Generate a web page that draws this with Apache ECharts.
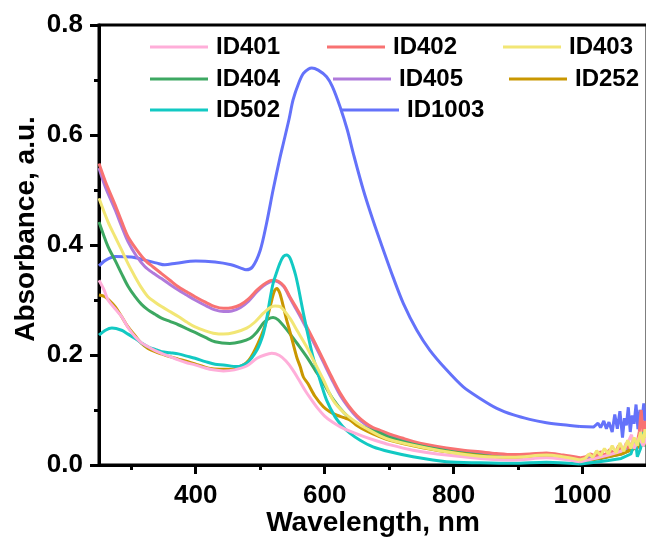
<!DOCTYPE html>
<html>
<head>
<meta charset="utf-8">
<script src="https://cdn.jsdelivr.net/npm/echarts@6/dist/echarts.min.js"></script>
<style>html,body{margin:0;padding:0;background:#fff}#c{width:646px;height:537px}</style>
</head>
<body>
<div id="c"></div>
<script>
const FONT = 'Liberation Sans, Arial, sans-serif';
const xTicks = [400, 600, 800, 1000];
const xMinorTicks = [300, 500, 700, 900];
const noiseStart = 996; // beyond this wavelength the measured spectra are noisy

const id401_nm = [250,258,264,275,285,295,306,316,326,337,347,360,373,386,399,413,427,443,460,479,495,507,518,530,540,550,560,570,580,590,600,612,625,640,660,680,700,737,789,841,892,944,996,1020,1040,1060,1070,1076,1080,1088,1094,1100];
const id401_abs = [.336,.318,.30,.284,.27,.25,.233,.222,.215,.208,.203,.197,.191,.186,.182,.177,.173,.171,.173,.18,.194,.200,.203,.199,.189,.174,.155,.135,.118,.102,.089,.078,.069,.061,.052,.044,.037,.027,.018,.012,.009,.013,.006,.012,.018,.025,.04,.055,.03,.05,.035,.05];

const id402_nm = [250,260,275,285,295,308,321,334,347,360,373,386,399,415,430,443,456,469,482,495,505,515,520,528,537,546,555,564,572,585,598,611,624,637,650,663,675,686,701,720,737,760,789,815,841,866,892,918,944,970,996,1005,1012,1020,1028,1035,1042,1050,1056,1062,1068,1073,1078,1083,1088,1091,1094,1097,1100];
const id402_abs = [.548,.515,.473,.443,.415,.392,.373,.36,.348,.336,.324,.315,.306,.296,.288,.285,.286,.291,.302,.318,.328,.335,.336,.334,.325,.306,.288,.27,.252,.222,.191,.16,.131,.108,.09,.077,.068,.063,.056,.049,.043,.037,.031,.027,.024,.021,.019,.02,.022,.018,.013,.015,.02,.016,.024,.018,.028,.02,.035,.022,.04,.025,.045,.03,.06,.1,.055,.08,.06];

const id403_nm = [250,264,275,285,295,306,316,326,337,347,360,373,386,399,415,430,443,460,479,492,505,515,523,532,546,558,572,585,598,613,630,650,670,686,701,737,789,841,892,944,996,1004,1010,1016,1022,1028,1034,1040,1046,1052,1058,1064,1070,1075,1080,1085,1090,1094,1097,1100];
const id403_abs = [.485,.442,.415,.391,.366,.342,.322,.306,.296,.288,.279,.27,.26,.251,.244,.239,.238,.241,.249,.26,.276,.286,.289,.287,.267,.243,.215,.185,.155,.118,.095,.077,.063,.053,.046,.036,.024,.016,.014,.018,.009,.012,.02,.014,.026,.017,.03,.02,.035,.022,.04,.025,.045,.03,.05,.035,.06,.04,.065,.05];

const id404_nm = [250,264,275,285,295,306,316,326,337,347,360,373,386,399,415,430,453,470,484,495,505,512,520,528,537,546,558,572,585,598,613,630,650,675,686,701,737,789,841,892,944,996,1030,1060,1080,1090,1100];
const id404_abs = [.442,.397,.372,.348,.325,.306,.292,.282,.274,.267,.261,.255,.248,.241,.232,.224,.221,.224,.23,.242,.258,.265,.268,.264,.252,.239,.22,.197,.173,.149,.12,.095,.075,.062,.058,.05,.038,.026,.018,.013,.015,.007,.012,.02,.03,.04,.035];

const id405_nm = [250,260,275,285,295,308,321,334,347,360,373,386,399,415,430,443,456,469,482,495,505,515,520,528,537,546,555,564,572,585,598,611,624,637,650,663,675,686,701,737,789,841,892,944,996,1020,1040,1060,1075,1085,1090,1095,1100];
const id405_abs = [.54,.505,.464,.434,.406,.38,.361,.349,.339,.328,.318,.309,.30,.29,.282,.279,.28,.286,.298,.315,.326,.333,.335,.333,.324,.304,.285,.266,.248,.218,.187,.156,.127,.105,.087,.074,.066,.061,.054,.041,.029,.022,.017,.02,.011,.016,.02,.025,.035,.03,.05,.035,.045];

const id252_nm = [250,259,267,275,285,295,306,316,326,337,347,357,372,388,404,420,437,455,474,482,489,497,505,512,518,522,526,530,533,537,541,546,551,557,562,567,574,585,598,608,620,630,639,650,665,686,701,737,789,841,892,944,996,1030,1060,1080,1100];
const id252_abs = [.309,.306,.298,.288,.27,.251,.235,.221,.212,.206,.202,.198,.193,.188,.182,.176,.174,.174,.182,.19,.203,.222,.245,.272,.30,.316,.321,.314,.302,.283,.264,.243,.221,.195,.179,.16,.148,.125,.106,.097,.09,.086,.082,.072,.062,.051,.045,.035,.024,.017,.013,.015,.007,.013,.02,.03,.04];

const id502_nm = [250,260,270,285,295,306,316,326,337,347,360,373,386,399,415,430,443,464,479,487,495,500,505,510,515,520,526,531,536,541,546,551,555,559,563,567,572,577,582,588,595,603,616,628,639,655,675,701,737,789,841,892,944,996,1020,1040,1060,1075,1082,1085,1090,1095,1100];
const id502_abs = [.236,.245,.249,.245,.238,.23,.222,.215,.21,.206,.204,.202,.198,.194,.188,.183,.182,.179,.185,.195,.209,.222,.239,.265,.30,.33,.352,.368,.379,.382,.377,.361,.345,.324,.30,.276,.248,.221,.196,.173,.146,.118,.088,.07,.058,.045,.033,.024,.015,.006,.004,.003,.005,.002,.005,.008,.012,.02,.045,.015,.03,.06,.04];

const id1003_nm = [250,260,275,300,320,340,352,370,400,430,455,470,478,488,500,510,520,530,536,545,551,560,567,575,580,590,603,612,624,635,645,660,675,691,706,722,743,763,789,815,841,867,893,918,944,970,996,1017,1024,1028,1033,1037,1041,1046,1050,1054,1058,1062,1065,1068,1071,1074,1077,1080,1083,1086,1089,1092,1095,1098,1100];
const id1003_abs = [.362,.372,.379,.378,.373,.367,.364,.367,.371,.369,.364,.358,.355,.360,.39,.44,.50,.555,.585,.63,.664,.695,.712,.72,.722,.718,.706,.688,.651,.61,.564,.50,.445,.391,.342,.294,.245,.209,.173,.142,.121,.103,.091,.083,.077,.073,.070,.069,.076,.068,.080,.066,.078,.060,.092,.066,.098,.05,.085,.072,.105,.06,.09,.075,.11,.065,.1,.08,.112,.07,.095];

const seriesDefs = [
  {name:'ID1003', nm:id1003_nm, abs:id1003_abs, color:'#6472FA'},
  {name:'ID405', nm:id405_nm, abs:id405_abs, color:'#B07ADB'},
  {name:'ID402', nm:id402_nm, abs:id402_abs, color:'#F87272'},
  {name:'ID404', nm:id404_nm, abs:id404_abs, color:'#3DA862'},
  {name:'ID252', nm:id252_nm, abs:id252_abs, color:'#C99700'},
  {name:'ID502', nm:id502_nm, abs:id502_abs, color:'#12C9C3'},
  {name:'ID401', nm:id401_nm, abs:id401_abs, color:'#FFAED9'},
  {name:'ID403', nm:id403_nm, abs:id403_abs, color:'#F2E675'}
];

const legendPos = [
  {name:'ID401', left:150, top:35},
  {name:'ID402', left:327, top:35},
  {name:'ID403', left:503, top:35},
  {name:'ID404', left:150, top:67},
  {name:'ID405', left:333, top:67},
  {name:'ID252', left:509, top:67},
  {name:'ID502', left:150, top:98},
  {name:'ID1003', left:341, top:98}
];

const chart = echarts.init(document.getElementById('c'), null, {renderer:'canvas'});
const labelStyle = {fontFamily:FONT, fontWeight:'bold', color:'#000'};

const series = [];
seriesDefs.forEach(s => {
  const pts = s.nm.map((x,i) => [x, s.abs[i]]);
  const k = s.nm.indexOf(noiseStart);
  const base = {name:s.name, type:'line', xAxisIndex:0, yAxisIndex:0, showSymbol:false, symbol:'none',
    lineStyle:{color:s.color, width:3}, itemStyle:{color:s.color}, emphasis:{disabled:true}, silent:true};
  series.push(Object.assign({}, base, {data:pts.slice(0, k+1), smooth:0.3}));
  series.push(Object.assign({}, base, {data:pts.slice(k), smooth:false}));
});

chart.setOption({
  animation:false,
  backgroundColor:'#fff',
  grid:{left:99, top:25, width:548, height:440, containLabel:false, outerBoundsMode:'none',
        show:true, borderColor:'#000', borderWidth:3, backgroundColor:'transparent'},
  legend: legendPos.map(p => ({
    data:[{name:p.name, icon:'rect'}], left:p.left, top:p.top, padding:0, itemGap:0,
    itemWidth:58, itemHeight:3, selectedMode:false,
    textStyle:Object.assign({fontSize:24, lineHeight:24, padding:[0,0,0,3]}, labelStyle)
  })),
  xAxis:[{
    type:'value', min:250, max:1100,
    name:'Wavelength, nm', nameLocation:'middle', nameGap:44, nameMoveOverlap:false,
    nameTextStyle:Object.assign({fontSize:28}, labelStyle),
    axisLine:{show:true, onZero:false, lineStyle:{color:'#000', width:3}},
    axisTick:{show:true, customValues:xTicks, length:9, lineStyle:{color:'#000', width:3}},
    axisLabel:{show:true, customValues:xTicks, margin:18, fontSize:26, fontFamily:FONT, fontWeight:'bold', color:'#000', formatter:v => String(v)},
    splitLine:{show:false}
  },{
    type:'value', min:250, max:1100, position:'bottom', offset:0,
    axisLine:{show:false},
    axisTick:{show:true, customValues:xMinorTicks, length:5, lineStyle:{color:'#000', width:3}},
    axisLabel:{show:false},
    splitLine:{show:false}
  }],
  yAxis:{
    type:'value', min:0, max:0.8, interval:0.2,
    name:'Absorbance, a.u.', nameLocation:'middle', nameGap:59, nameMoveOverlap:false,
    nameTextStyle:Object.assign({fontSize:28, padding:[0,0,0,32]}, labelStyle),
    axisLine:{show:true, lineStyle:{color:'#000', width:3}},
    axisTick:{show:true, length:9, lineStyle:{color:'#000', width:3}},
    minorTick:{show:true, splitNumber:2, length:5, lineStyle:{color:'#000', width:3}},
    axisLabel:{margin:16, fontSize:26, fontFamily:FONT, fontWeight:'bold', color:'#000', formatter:v => v.toFixed(1)},
    splitLine:{show:false}
  },
  series: series
});
</script>
</body>
</html>
